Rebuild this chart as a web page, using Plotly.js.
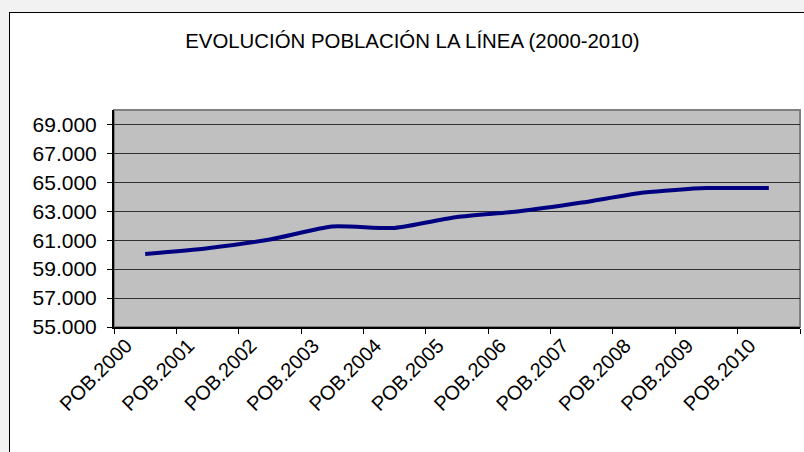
<!DOCTYPE html>
<html>
<head>
<meta charset="utf-8">
<script src="https://cdn.plot.ly/plotly-3.0.1.min.js"></script>
<style>
  html, body { margin: 0; padding: 0; background: #f2f2f2; width: 804px; height: 452px; overflow: hidden; }
  #box { position: absolute; left: 9px; top: 12px; width: 820px; height: 460px; background: #ffffff; border: 1px solid #000000; }
  #chart { position: absolute; left: 0; top: 0; width: 804px; height: 452px; }
</style>
</head>
<body>
<div id="box"></div>
<div id="chart"></div>
<script>
// Data
var categories = ["POB.2000", "POB.2001", "POB.2002", "POB.2003", "POB.2004", "POB.2005",
                  "POB.2006", "POB.2007", "POB.2008", "POB.2009", "POB.2010"];
var population = [60050, 60450, 61050, 61950, 61850, 62600, 63000, 63600, 64300, 64600, 64600];
var chartTitle = "EVOLUCIÓN POBLACIÓN LA LÍNEA (2000-2010)";

var trace = {
  type: "scatter",
  mode: "lines",
  x: categories,
  y: population,
  line: { color: "#000080", width: 4, shape: "spline", smoothing: 0.6 },
  hoverinfo: "x+y"
};

var fontFamily = "Liberation Sans, Arial, sans-serif";

var layout = {
  width: 804,
  height: 452,
  paper_bgcolor: "rgba(0,0,0,0)",
  plot_bgcolor: "#c0c0c0",
  separators: ",.",
  showlegend: false,
  margin: { l: 114, r: 4, t: 110, b: 125, pad: 0 },
  title: {
    text: chartTitle,
    font: { family: fontFamily, size: 20.4, color: "#000000" },
    x: 0.513, xanchor: "center",
    y: 0.91, yanchor: "middle",
    xref: "container", yref: "container"
  },
  xaxis: {
    type: "category",
    range: [-0.5, 10.5],
    tickson: "boundaries",
    ticks: "outside",
    ticklen: 5,
    tickwidth: 1,
    tickcolor: "#000000",
    tickangle: -45,
    ticklabelshift: -19,
    ticklabelstandoff: -3,
    tickfont: { family: fontFamily, size: 20, color: "#000000" },
    showgrid: false,
    showline: true,
    linecolor: "#000000",
    linewidth: 2,
    zeroline: false,
    fixedrange: true
  },
  yaxis: {
    range: [55000, 70000],
    tick0: 55000,
    dtick: 2000,
    tickformat: ",d",
    ticks: "outside",
    ticklen: 5,
    tickwidth: 1,
    tickcolor: "#000000",
    ticklabelstandoff: 6,
    tickfont: { family: fontFamily, size: 21, color: "#000000" },
    showgrid: true,
    gridcolor: "#303030",
    gridwidth: 1,
    showline: true,
    linecolor: "#000000",
    linewidth: 2,
    zeroline: false,
    fixedrange: true
  },
  shapes: [{
    type: "rect", xref: "paper", yref: "paper",
    x0: 0, x1: 1, y0: 0, y1: 1,
    line: { color: "#808080", width: 2 },
    fillcolor: "rgba(0,0,0,0)",
    layer: "below"
  }]
};

Plotly.newPlot("chart", [trace], layout, { displayModeBar: false, staticPlot: true });
</script>
</body>
</html>
